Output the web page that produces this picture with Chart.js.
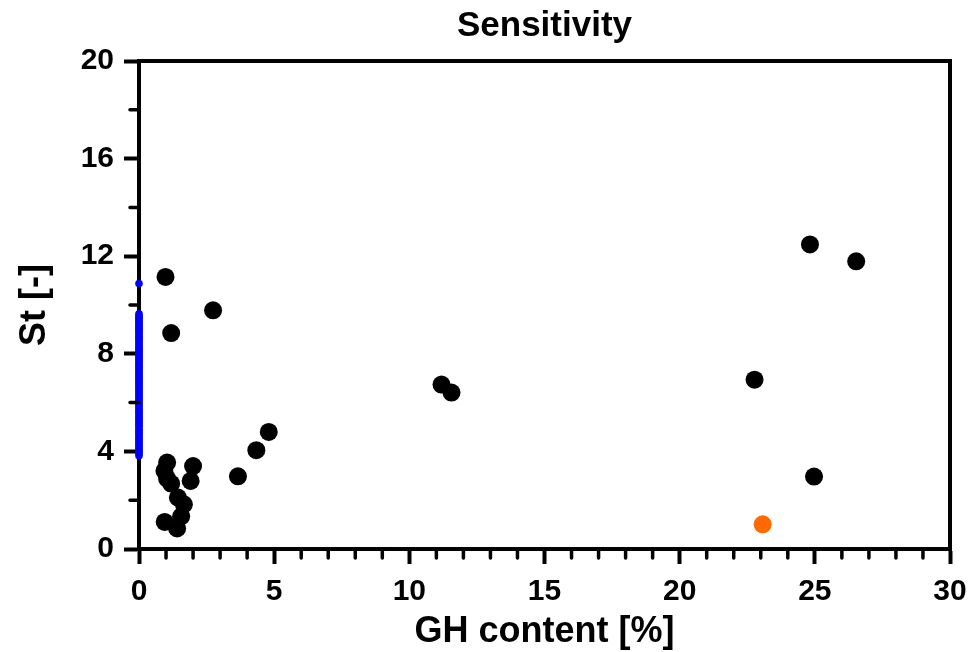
<!DOCTYPE html>
<html lang="en">
<head>
    <meta charset="UTF-8">
    <title>Sensitivity</title>
    <script src="https://cdn.jsdelivr.net/npm/chart.js@4.4.3/dist/chart.umd.min.js"></script>
    <style>
        html, body { margin: 0; padding: 0; background: #fff; }
        #box { width: 970px; height: 652px; }
    </style>
</head>
<body>
    <div id="box"><canvas id="mychart"></canvas></div>
    <script>
        const chartTitle = 'Sensitivity';

        // measured samples (GH content %, St)
        const ghMeasured = [0.98, 2.74, 1.19, 4.80, 4.34, 3.66, 1.04, 0.94, 1.04, 1.19, 2.00, 1.91, 1.44, 1.66, 1.56, 0.95, 1.41,
                            11.19, 11.56, 24.82, 26.53, 22.77, 24.97];
        const stMeasured = [11.15, 9.78, 8.85, 4.80, 4.05, 2.98, 3.54, 3.20, 2.88, 2.68, 3.40, 2.79, 2.11, 1.83, 1.34, 1.11, 0.84,
                            6.74, 6.41, 12.48, 11.79, 6.94, 2.97];

        // samples without gas hydrate (all at 0 %)
        const stZero = [10.88, 9.64, 9.57, 9.51, 9.44, 9.38, 9.31, 9.25, 9.17, 9.12, 9.05, 8.98, 8.93, 8.86, 8.79, 8.71,
                        8.66, 8.60, 8.52, 8.45, 8.38, 8.30, 8.24, 8.17, 8.10, 8.03, 7.97, 7.89, 7.83, 7.76, 7.69, 7.62,
                        7.55, 7.49, 7.43, 7.36, 7.29, 7.22, 7.15, 7.08, 7.02, 6.95, 6.88, 6.81, 6.74, 6.66, 6.60, 6.52,
                        6.45, 6.38, 6.31, 6.24, 6.17, 6.10, 6.01, 5.93, 5.86, 5.79, 5.72, 5.65, 5.58, 5.50, 5.43, 5.36,
                        5.29, 5.22, 5.14, 5.07, 5.00, 4.91, 4.84, 4.77, 4.70, 4.63, 4.55, 4.48, 4.41, 4.34, 4.26, 4.19,
                        4.12, 4.05, 3.97, 3.90, 3.82];

        // highlighted sample
        const ghOrange = [23.07];
        const stOrange = [1.01];

        const xTicks = [0, 5, 10, 15, 20, 25, 30];
        const yTicks = [0, 4, 8, 12, 16, 20];

        const toPts = (xs, ys) => ys.map((v, i) => ({ x: xs[i], y: v }));

        const fontFam = '"Liberation Sans", Arial, sans-serif';

        // top/right frame, minor ticks and the title centred over the plot box
        const frame = {
            id: 'frame',
            afterDraw(chart) {
                const { ctx, chartArea: a, scales: { x, y } } = chart;
                ctx.save();
                ctx.strokeStyle = '#000';
                ctx.lineWidth = 4;
                ctx.beginPath();
                ctx.moveTo(a.left - 2, a.top);
                ctx.lineTo(a.right, a.top);
                ctx.lineTo(a.right, a.bottom + 2);
                ctx.stroke();
                ctx.lineWidth = 3.5;
                ctx.lineCap = 'round';
                ctx.beginPath();
                for (let v = 1; v < 30; v++) {
                    if (v % 5 === 0) continue;
                    const px = x.getPixelForValue(v);
                    ctx.moveTo(px, a.bottom);
                    ctx.lineTo(px, a.bottom + 9);
                }
                for (let v = 2; v < 20; v += 4) {
                    const py = y.getPixelForValue(v);
                    ctx.moveTo(a.left - 9, py);
                    ctx.lineTo(a.left, py);
                }
                ctx.stroke();

                ctx.fillStyle = '#000';
                ctx.font = 'bold 35px ' + fontFam;
                ctx.textAlign = 'center';
                ctx.textBaseline = 'alphabetic';
                ctx.fillText(chartTitle, (a.left + a.right) / 2, 36);
                ctx.restore();
            }
        };

        var config = {
            type: 'scatter',
            data: {
                datasets: [
                    {
                        label: 'GH',
                        data: toPts(ghMeasured, stMeasured),
                        backgroundColor: '#000',
                        borderWidth: 0,
                        pointRadius: 9,
                        clip: false
                    },
                    {
                        label: 'no GH',
                        data: toPts(stZero.map(() => 0), stZero),
                        backgroundColor: '#0000ff',
                        borderWidth: 0,
                        pointRadius: 3.8,
                        clip: false
                    },
                    {
                        label: 'highlight',
                        data: toPts(ghOrange, stOrange),
                        backgroundColor: '#ff6a00',
                        borderWidth: 0,
                        pointRadius: 9,
                        clip: false
                    }
                ]
            },
            options: {
                responsive: true,
                maintainAspectRatio: false,
                animation: false,
                layout: { padding: { left: 0, right: 20, top: 61, bottom: 0 } },
                scales: {
                    x: {
                        type: 'linear',
                        min: 0,
                        max: 30,
                        afterBuildTicks: s => { s.ticks = xTicks.map(v => ({ value: v })); },
                        afterFit: s => { s.height = 103; s.paddingLeft = 0; s.paddingRight = 0; },
                        grid: {
                            drawOnChartArea: false,
                            tickLength: 15,
                            tickWidth: 4,
                            tickColor: '#000'
                        },
                        border: { color: '#000', width: 4 },
                        ticks: {
                            color: '#000',
                            padding: 10,
                            maxRotation: 0,
                            font: { family: fontFam, size: 30, weight: 'bold' }
                        },
                        title: {
                            display: true,
                            text: 'GH content [%]',
                            color: '#000',
                            padding: { top: 0, bottom: 0 },
                            font: { family: fontFam, size: 36, weight: 'bold', lineHeight: 1.1 }
                        }
                    },
                    y: {
                        type: 'linear',
                        min: 0,
                        max: 20,
                        afterBuildTicks: s => { s.ticks = yTicks.map(v => ({ value: v })); },
                        afterFit: s => { s.width = 139; s.paddingTop = 0; s.paddingBottom = 0; },
                        grid: {
                            drawOnChartArea: false,
                            tickLength: 15,
                            tickWidth: 4,
                            tickColor: '#000'
                        },
                        border: { color: '#000', width: 4 },
                        ticks: {
                            color: '#000',
                            padding: 10,
                            font: { family: fontFam, size: 30, weight: 'bold' }
                        },
                        title: {
                            display: true,
                            text: 'St [-]',
                            color: '#000',
                            padding: { top: 15, bottom: 0 },
                            font: { family: fontFam, size: 36, weight: 'bold', lineHeight: 1.1 }
                        }
                    }
                },
                plugins: {
                    legend: { display: false },
                    tooltip: { enabled: false },
                    title: { display: false }
                }
            },
            plugins: [frame]
        };

        var mychart = new Chart(document.getElementById('mychart'), config);
    </script>
</body>
</html>
